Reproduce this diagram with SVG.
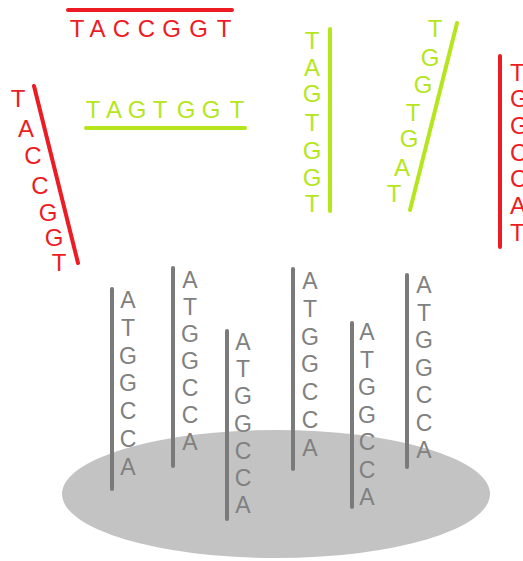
<svg xmlns="http://www.w3.org/2000/svg" width="523" height="561" viewBox="0 0 523 561">
<style>
text{font-family:"Liberation Sans",Arial,sans-serif;text-anchor:middle}
.g{fill:#808080;font-size:23px}
.gl{stroke:#7a7a7a;stroke-width:4;stroke-linecap:round}
.r{fill:#ed1c24;font-size:24px}
.rl{stroke:#ed1c24;stroke-width:4;stroke-linecap:round}
.y{fill:#b5e61d;font-size:24px}
.yl{stroke:#b5e61d;stroke-width:4;stroke-linecap:round}
</style>
<rect width="523" height="561" fill="#fff"/>
<g id="surface"><ellipse cx="276" cy="494" rx="214" ry="64" fill="#c3c3c3"/></g>
<g id="probe1"><line class="gl" x1="112" y1="289" x2="112" y2="489"/><text class="g" x="128 128 128 128 128 128 128" y="308 335.8 363.6 391.4 419.2 447 474.8">ATGGCCA</text></g>
<g id="probe2"><line class="gl" x1="173" y1="268" x2="173" y2="466"/><text class="g" x="190 190 190 190 190 190 190" y="288 315 342 369 396 423 450">ATGGCCA</text></g>
<g id="probe3"><line class="gl" x1="227" y1="331" x2="227" y2="519"/><text class="g" x="243 243 243 243 243 243 243" y="350 377.2 404.4 431.6 458.8 486 513.2">ATGGCCA</text></g>
<g id="probe4"><line class="gl" x1="293" y1="269" x2="293" y2="469"/><text class="g" x="310 310 310 310 310 310 310" y="289 316.8 344.6 372.4 400.2 428 455.8">ATGGCCA</text></g>
<g id="probe5"><line class="gl" x1="352" y1="323" x2="352" y2="507"/><text class="g" x="367 367 367 367 367 367 367" y="340 367.5 395 422.5 450 477.5 505">ATGGCCA</text></g>
<g id="probe6"><line class="gl" x1="407" y1="275" x2="407" y2="467"/><text class="g" x="424 424 424 424 424 424 424" y="293 320.5 348 375.5 403 430.5 458">ATGGCCA</text></g>
<g id="red-top"><line class="rl" x1="68" y1="10" x2="232" y2="10"/><text class="r" x="77 97.5 121.5 146.5 171.5 198.5 224" y="37">TACCGGT</text></g>
<g id="green-horizontal"><line class="yl" x1="86" y1="128" x2="245" y2="128"/><text class="y" x="93 114 137 160 186 211 237" y="118">TAGTGGT</text></g>
<g id="red-diagonal"><line class="rl" x1="34" y1="86" x2="78" y2="263"/><text class="r" x="18 26 33 40 48 54 59" y="106.5 136.5 163.5 193.5 220.5 245.5 270.5">TACCGGT</text></g>
<g id="green-vertical"><line class="yl" x1="330" y1="29" x2="330" y2="211"/><text class="y" x="312 312 312 312 312 312 312" y="48.5 75.5 101.5 130.5 158.5 185.5 211.5">TAGTGGT</text></g>
<g id="green-diagonal"><line class="yl" x1="457" y1="23" x2="410" y2="210"/><text class="y" x="435 430 423 413 409 402 394" y="36.5 65.5 92.5 120.5 146.5 175.5 201.5">TGGTGAT</text></g>
<g id="red-vertical"><line class="rl" x1="500" y1="56" x2="500" y2="247"/><text class="r" style="text-anchor:start" x="510 510 510 510 510 510 510" y="80.5 106.5 133.5 160.5 186.5 213.5 240.5">TGGCCAT</text></g>
<g id="connectors"/>
</svg>
